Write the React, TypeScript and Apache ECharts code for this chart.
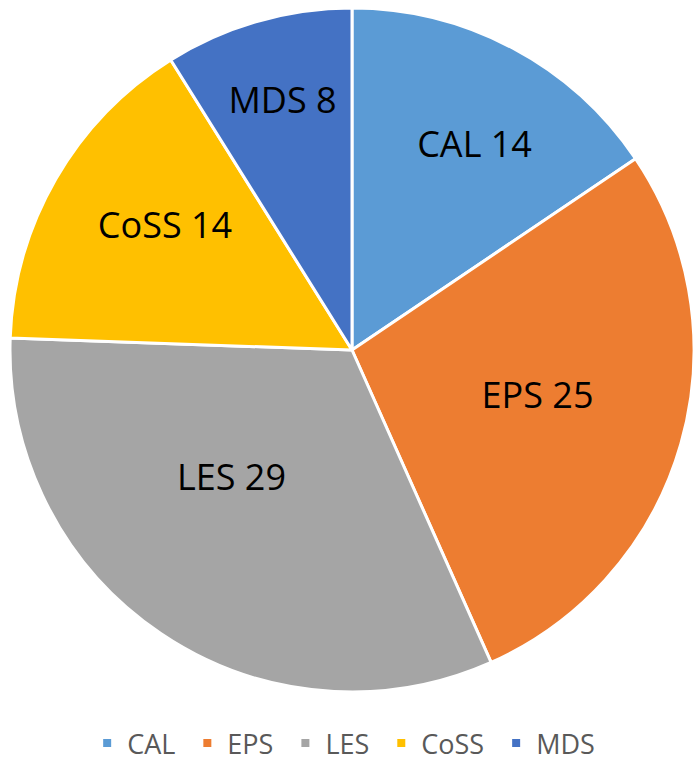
import React, { useEffect, useRef } from "react";
import * as echarts from "echarts";

const categories = ["CAL", "EPS", "LES", "CoSS", "MDS"];
const values = [14, 25, 29, 14, 8];
const colors = ["#5B9BD5", "#ED7D31", "#A5A5A5", "#FFC000", "#4472C4"];
// label placement: distance from centre as a fraction of the radius, and angular shift (deg) from slice middle
const labelRadius = [0.702, 0.558, 0.511, 0.658, 0.76];
const labelShift = [2.7, -2.5, 9.6, 3.8, 0.5];

const W = 696;
const H = 762;
const CX = 352;
const CY = 350;
const R = 342;

export default function App() {
  const ref = useRef<HTMLDivElement>(null);
  useEffect(() => {
    const chart = echarts.init(ref.current!, null, { renderer: "svg" });
    chart.setOption({
      animation: false,
      backgroundColor: "#ffffff",
      legend: {
        bottom: 0,
        left: "center",
        padding: 0,
        icon: "rect",
        itemWidth: 10,
        itemHeight: 10,
        itemGap: 26,
        data: categories,
        textStyle: {
          fontFamily: "Open Sans",
          fontSize: 27,
          lineHeight: 38,
          color: "#595959",
          padding: [0, 0, 0, 10],
        },
      },
      series: [
        {
          type: "pie",
          center: [CX, CY],
          radius: [0, R],
          startAngle: 90,
          clockwise: true,
          data: categories.map((c, i) => ({
            name: c,
            value: values[i],
            itemStyle: { color: colors[i] },
          })),
          itemStyle: { borderColor: "#ffffff", borderWidth: 3 },
          label: {
            show: true,
            position: "inside",
            formatter: "{b} {c}",
            fontFamily: "Open Sans",
            fontSize: 36,
            color: "#000000",
          },
          labelLine: { show: false },
          labelLayout: (params: any) => {
            const r = params.labelRect;
            const lx = r.x + r.width / 2;
            const ly = r.y + r.height / 2;
            const i = params.dataIndex;
            const a = Math.atan2(lx - CX, -(ly - CY)) + (labelShift[i] * Math.PI) / 180;
            const d = labelRadius[i] * R;
            return {
              x: CX + d * Math.sin(a),
              y: CY - d * Math.cos(a),
              align: "center",
              verticalAlign: "middle",
            };
          },
          emphasis: { disabled: true },
        },
      ],
    });
    return () => chart.dispose();
  }, []);
  return <div ref={ref} style={{ position: "fixed", left: 0, top: 0, width: W, height: H }} />;
}
